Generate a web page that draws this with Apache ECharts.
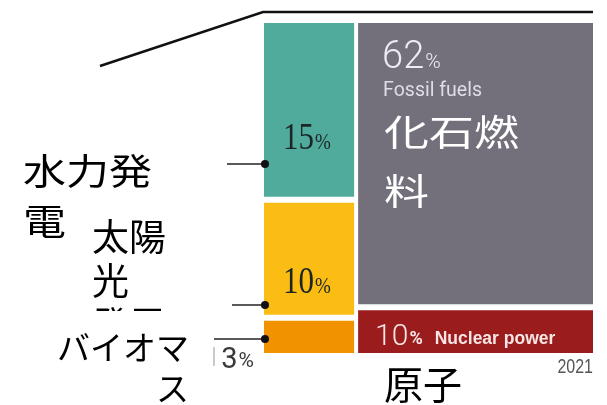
<!DOCTYPE html>
<html>
<head>
<meta charset="utf-8">
<script src="https://cdn.jsdelivr.net/npm/echarts@6/dist/echarts.min.js"></script>
<style>
  html, body { margin: 0; padding: 0; background: #ffffff; }
  #chart { width: 607px; height: 405px; }
</style>
</head>
<body>
<div id="chart"></div>
<script>
// Electricity generation mix, 2021 (share of total, %)
const categories = ['Hydropower', 'Solar', 'Biomass', 'Fossil fuels', 'Nuclear power'];
const shares = [15, 10, 3, 62, 10];
const columnOf = [0, 0, 0, 1, 1];          // left stack / right stack
const jpNames = ['水力発\n電', '太陽\n光\n発電', 'バイオマ\nス', '化石燃\n料', '原子\n力'];
const year = '2021';

const colors = ['#51ab9d', '#fbbd13', '#f19300', '#73707c', '#9b1c1c'];

// Build treemap-style rectangles: column width = column total, row height = share within column
const colTotals = [0, 0];
shares.forEach((v, i) => { colTotals[columnOf[i]] += v; });
const grand = colTotals[0] + colTotals[1];
const colStart = [0, colTotals[0] / grand * 100];
const colEnd = [colTotals[0] / grand * 100, 100];
const running = [0, 0];
const cells = shares.map((v, i) => {
  const c = columnOf[i];
  const y0 = running[c] / colTotals[c] * 100;
  running[c] += v;
  const y1 = running[c] / colTotals[c] * 100;
  return [colStart[c], colEnd[c], y0, y1, i];
});

const GAP_X = 4, GAP_Y = 6;
const serif = "'Liberation Serif', 'DejaVu Serif', serif";
const sans = "Roboto, 'Liberation Sans', sans-serif";
const jp = "'Noto Sans CJK JP', sans-serif";

function cellLabels(i, x0, y0, x1, y1) {
  const v = shares[i];
  if (i === 0 || i === 1) {
    return [{
      type: 'text', x: x0 + 19, y: i === 0 ? y0 + 116 : y1 - 31, scaleY: 1.2, z2: 10,
      style: {
        text: '{n|' + v + '}{p|%}', verticalAlign: 'middle', align: 'left',
        rich: {
          n: { fontFamily: serif, fontSize: 31, fill: '#1c2626' },
          p: { fontFamily: serif, fontSize: 19, fill: '#1c2626', verticalAlign: 'bottom', padding: [0, 0, 3, 1] }
        }
      }
    }];
  }
  if (i === 2) {
    return [{
      type: 'text', x: x0 - 10, y: y1 + 8, z2: 10,
      style: {
        text: '{n|' + v + '}{p|%}', verticalAlign: 'middle', align: 'right',
        rich: {
          n: { fontFamily: sans, fontSize: 29, fill: '#3a3a3c' },
          p: { fontFamily: sans, fontSize: 21, fill: '#3a3a3c', verticalAlign: 'bottom', padding: [0, 0, 3, 1] }
        }
      }
    }];
  }
  if (i === 3) {
    return [{
      type: 'text', x: x0 + 24, y: y0 + 35, z2: 10,
      style: {
        text: '{n|' + v + '}{p|%}', verticalAlign: 'middle', align: 'left',
        rich: {
          n: { fontFamily: sans, fontWeight: 300, fontSize: 38, fill: '#eeecf3' },
          p: { fontFamily: sans, fontWeight: 300, fontSize: 21, fill: '#eeecf3', verticalAlign: 'bottom', padding: [0, 0, 4, 1] }
        }
      }
    }, {
      type: 'text', x: x0 + 25, y: y0 + 68, z2: 10,
      style: { text: categories[i], fontFamily: sans, fontSize: 19.5, fill: '#dfdde7', verticalAlign: 'middle', align: 'left' }
    }];
  }
  return [{
    type: 'text', x: x0 + 17, y: y1 - 16, z2: 10,
    style: {
      text: '{n|' + v + '}{p|%}{s|' + categories[i] + '}', verticalAlign: 'middle', align: 'left',
      rich: {
        n: { fontFamily: sans, fontWeight: 300, fontSize: 30, fill: '#f7e6e6' },
        p: { fontFamily: sans, fontSize: 18, fontWeight: 'bold', fill: '#f7e6e6', verticalAlign: 'bottom', padding: [0, 0, 4, 1] },
        s: { fontFamily: "'Liberation Sans', sans-serif", fontSize: 17.5, fontWeight: 'bold', fill: '#f7e6e6', verticalAlign: 'bottom', padding: [0, 0, 4, 12] }
      }
    }
  }];
}

const chart = echarts.init(document.getElementById('chart'), null, { renderer: 'canvas' });

chart.setOption({
  animation: false,
  backgroundColor: '#ffffff',
  grid: { left: 264, top: 23, right: 14, bottom: 52 },
  xAxis: { type: 'value', min: 0, max: 100, show: false },
  yAxis: { type: 'value', min: 0, max: 100, inverse: true, show: false },
  series: [{
    type: 'custom',
    coordinateSystem: 'cartesian2d',
    data: cells,
    encode: { x: [0, 1], y: [2, 3] },
    renderItem(params, api) {
      const i = api.value(4);
      const a = api.value(0), b = api.value(1), c = api.value(2), d = api.value(3);
      const p0 = api.coord([a, c]);
      const p1 = api.coord([b, d]);
      const x0 = p0[0] + (a > 0 ? GAP_X / 2 : 0);
      const x1 = p1[0] - (b < 100 ? GAP_X / 2 : 0);
      const y0 = p0[1] + (c > 0 ? GAP_Y / 2 : 0);
      const y1 = p1[1] - (d < 100 ? GAP_Y / 2 : 0);
      return {
        type: 'group',
        children: [{
          type: 'rect',
          shape: { x: x0, y: y0, width: x1 - x0, height: y1 - y0 },
          style: { fill: colors[i] }
        }].concat(cellLabels(i, x0, y0, x1, y1))
      };
    }
  }]
});

// Callouts and Japanese annotations
const edgeX = chart.convertToPixel({ gridIndex: 0 }, [0, 0])[0] + 1;
const rightX = chart.convertToPixel({ gridIndex: 0 }, [100, 0])[0];
const callouts = [[227, 164], [232, 305], [214, 339]];
const graphics = [];

graphics.push({
  type: 'polyline', z: 100,
  shape: { points: [[100, 66], [edgeX - 2, 12], [rightX, 12]] },
  style: { stroke: '#111111', lineWidth: 2.5, fill: null }
});

callouts.forEach(([sx, y]) => {
  graphics.push({ type: 'line', z: 100, shape: { x1: sx, y1: y, x2: edgeX, y2: y }, style: { stroke: '#222222', lineWidth: 1.5 } });
  graphics.push({ type: 'circle', z: 101, shape: { cx: edgeX, cy: y, r: 4 }, style: { fill: '#111111' } });
});

graphics.push({
  type: 'text', z: 100, x: 23, y: 146, scaleY: 0.85,
  style: { text: jpNames[0], font: '43px ' + jp, lineHeight: 59, fill: '#000000', verticalAlign: 'top', align: 'left' }
});
graphics.push({
  type: 'text', z: 100, x: 92, y: 215,
  style: { text: jpNames[1], font: '37px ' + jp, lineHeight: 44, fill: '#000000', verticalAlign: 'top', align: 'left' }
});
graphics.push({
  type: 'rect', z: 101, shape: { x: 46, y: 311, width: 167, height: 94 },
  style: { fill: '#ffffff' }
});
graphics.push({
  type: 'rect', z: 101, shape: { x: 213, y: 347, width: 2, height: 19 },
  style: { fill: '#c9c9cf' }
});
graphics.push({
  type: 'text', z: 102, x: 189, y: 327,
  style: { text: jpNames[2], font: '33px ' + jp, lineHeight: 41, fill: '#000000', verticalAlign: 'top', align: 'right' }
});
graphics.push({
  type: 'text', z: 100, x: 384, y: 103, scaleY: 0.8,
  style: { text: jpNames[3], font: '45px ' + jp, lineHeight: 74, fill: '#ffffff', verticalAlign: 'top', align: 'left' }
});
graphics.push({
  type: 'text', z: 100, x: 384, y: 359,
  style: { text: jpNames[4], font: '39px ' + jp, lineHeight: 50, fill: '#000000', verticalAlign: 'top', align: 'left' }
});
graphics.push({
  type: 'text', z: 100, x: rightX, y: 367.5, scaleY: 1.3,
  style: { text: year, font: "16px 'Liberation Sans', sans-serif", fill: '#555558', verticalAlign: 'middle', align: 'right' }
});

chart.setOption({ graphic: graphics });
</script>
</body>
</html>
